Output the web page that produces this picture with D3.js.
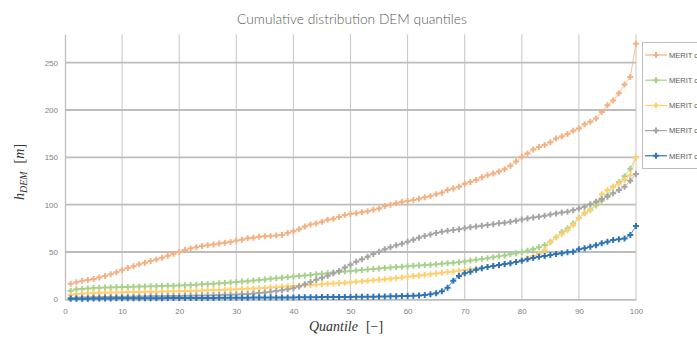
<!DOCTYPE html>
<html>
<head>
<meta charset="utf-8">
<script src="https://cdn.jsdelivr.net/npm/d3@7"></script>
<style>
  html, body { margin: 0; padding: 0; background: #fff; }
  svg { display: block; }
</style>
</head>
<body>
<svg id="chart" width="697" height="338"></svg>
<script>
// Quantile positions 1..100
const quantiles = [
  1,2,3,4,5,6,7,8,9,10,11,12,13,14,15,16,17,18,19,20,
  21,22,23,24,25,26,27,28,29,30,31,32,33,34,35,36,37,38,39,40,
  41,42,43,44,45,46,47,48,49,50,51,52,53,54,55,56,57,58,59,60,
  61,62,63,64,65,66,67,68,69,70,71,72,73,74,75,76,77,78,79,80,
  81,82,83,84,85,86,87,88,89,90,91,92,93,94,95,96,97,98,99,100
];

const seriesNames = ["MERIT c2", "MERIT co", "MERIT cl", "MERIT cl", "MERIT c1"];
const seriesColors = ["#F4B183", "#A9D18E", "#FFD070", "#A5A5A5", "#2E75B6"];

const meritOrange = [
  16.5, 18, 19.5, 20.5, 21.5, 23, 24.5, 26.5, 28.5, 31,
  33, 35, 37, 38.5, 40.5, 42, 44, 46, 48, 50,
  52, 53.8, 55, 56.3, 57, 58, 59, 59.8, 60.5, 62,
  63, 64.5, 65, 66, 66.5, 67, 67.5, 68, 70, 72,
  74, 77, 79, 80, 82, 84, 85, 87, 89, 90.5,
  91, 92, 93, 94.5, 96, 98.5, 100, 101.5, 103, 103.8,
  105, 106.3, 107.7, 109, 111, 112.6, 115.5, 117, 119, 122,
  124, 126, 129, 131, 133, 135, 137.5, 141, 145.5, 150.5,
  154, 158.4, 161, 163, 166, 170, 172, 174.6, 178, 180.6,
  185, 187.6, 191, 198, 205, 210, 217.6, 227, 235, 270
];

const meritGreen = [
  9, 10.5, 11, 11.5, 12, 12.2, 12.4, 12.6, 12.8, 13,
  13.1, 13.3, 13.4, 13.5, 13.7, 13.8, 14, 14.2, 14.4, 14.6,
  14.9, 15.2, 15.5, 15.8, 16.1, 16.5, 16.9, 17.3, 17.7, 18.2,
  18.7, 19.2, 19.8, 20.4, 21, 21.6, 22.2, 22.8, 23.4, 24,
  24.6, 25.2, 25.8, 26.4, 27, 27.6, 28.2, 28.8, 29.4, 30,
  30.5, 31, 31.5, 32, 32.5, 33, 33.5, 34, 34.5, 35,
  35.4, 35.8, 36.2, 36.6, 37, 37.5, 38, 38.6, 39.2, 40,
  41, 41.8, 42.6, 43.5, 44.4, 45.4, 46.4, 47.5, 48.6, 49.7,
  51.4, 52.8, 54.9, 57.4, 60.9, 65.5, 71, 75, 80, 86,
  91, 95, 99, 104, 110, 119, 124, 130, 138, 150
];

const meritYellow = [
  4.5, 5.5, 6, 6.3, 6.6, 6.8, 7, 7.1, 7.3, 7.5,
  7.6, 7.7, 7.8, 7.9, 8, 8.1, 8.2, 8.3, 8.4, 8.5,
  8.7, 8.9, 9.1, 9.3, 9.5, 9.7, 9.9, 10.1, 10.3, 10.5,
  10.8, 11.1, 11.4, 11.7, 12, 12.4, 12.8, 13.2, 13.6, 14,
  14.4, 14.8, 15.2, 15.6, 16, 16.4, 16.8, 17.2, 17.6, 18,
  18.5, 19, 19.5, 20, 20.6, 21.2, 21.8, 22.4, 23, 23.8,
  24.5, 25.2, 25.9, 26.6, 27.3, 28, 28.8, 29.5, 30.2, 31,
  31.7, 32.4, 33.2, 34, 34.8, 35.8, 36.8, 38, 39.5, 41.5,
  43.5, 45.5, 48, 52, 60, 65.5, 69, 73, 78.5, 85.6,
  91.5, 94, 102, 111, 115.5, 119, 122, 126, 131, 150
];

const meritGray = [
  1.5, 1.7, 1.9, 2.0, 2.1, 2.2, 2.3, 2.4, 2.5, 2.6,
  2.7, 2.8, 2.9, 3.0, 3.1, 3.2, 3.3, 3.4, 3.5, 3.6,
  3.7, 3.8, 3.9, 4.0, 4.1, 4.3, 4.5, 4.7, 4.9, 5.1,
  5.4, 5.7, 6.1, 6.6, 7.2, 7.9, 8.7, 9.6, 10.6, 11.8,
  13.6, 15.8, 18.2, 20.6, 22.8, 25, 27.5, 30, 33.5, 36.6,
  39.8, 42.2, 45, 47.9, 50.3, 52.8, 54.9, 57, 58.8, 60.8,
  63, 65, 66.9, 68.6, 70, 71.3, 72.3, 73.2, 74, 75,
  76, 76.8, 77.7, 78.5, 79.3, 80.3, 81, 82, 83, 84.3,
  85.4, 86.5, 87.3, 88.3, 89.6, 90.7, 91.8, 92.6, 94.2, 96,
  97.8, 100.4, 103, 106, 108.4, 112, 115.5, 119, 125.3, 132.4
];

const meritBlue = [
  0.5, 0.6, 0.7, 0.7, 0.8, 0.8, 0.9, 0.9, 1.0, 1.0,
  1.0, 1.1, 1.1, 1.1, 1.2, 1.2, 1.2, 1.3, 1.3, 1.3,
  1.4, 1.4, 1.4, 1.5, 1.5, 1.5, 1.6, 1.6, 1.6, 1.7,
  1.7, 1.7, 1.8, 1.8, 1.8, 1.9, 1.9, 2.0, 2.0, 2.0,
  2.1, 2.1, 2.2, 2.2, 2.3, 2.3, 2.4, 2.4, 2.5, 2.5,
  2.6, 2.6, 2.7, 2.8, 2.9, 3.0, 3.1, 3.2, 3.4, 3.6,
  3.8, 4.1, 4.5, 5.3, 6.5, 8.6, 12.3, 19.7, 24.6, 27.5,
  29.2, 31.2, 32.7, 34, 35.2, 36.2, 37.3, 38.2, 39.4, 40.8,
  42.2, 43.6, 45, 45.7, 46.8, 47.9, 48.6, 49.7, 50.3, 52.8,
  53.9, 55.6, 57, 59.2, 60.9, 62.6, 63.4, 64.2, 67.9, 77.4
];

const xTicks = [0, 10, 20, 30, 40, 50, 60, 70, 80, 90, 100];
const yTicks = [0, 50, 100, 150, 200, 250];

const chartTitle = "Cumulative distribution DEM quantiles";

const seriesValues = [meritOrange, meritGreen, meritYellow, meritGray, meritBlue];

const svg = d3.select("#chart");
const plot = { left: 65, right: 636, top: 34.3, bottom: 299.3 };

const x = d3.scaleLinear().domain([0, 100]).range([plot.left, plot.right]);
const y = d3.scaleLinear().domain([0, 280]).range([plot.bottom, plot.top]);

svg.append("rect").attr("width", 697).attr("height", 338).attr("fill", "#fff");

// Title
const title = svg.append("text")
  .attr("x", 352).attr("y", 24)
  .attr("text-anchor", "middle")
  .attr("font-family", "Lato, 'Open Sans', sans-serif")
  .attr("font-weight", 300)
  .attr("font-size", 17)
  .attr("fill", "#595959")
  .text(chartTitle);
{
  const w = title.node().getComputedTextLength();
  title.attr("font-size", 17 * 230 / w);
}

// Grid
const grid = svg.append("g");
grid.selectAll("line.v").data(xTicks.filter(d => d > 0)).join("line")
  .attr("x1", d => x(d)).attr("x2", d => x(d))
  .attr("y1", y(280)).attr("y2", y(0))
  .attr("stroke", "#c6c6c6").attr("stroke-width", 1);
grid.selectAll("line.h").data(yTicks.filter(d => d > 0)).join("line")
  .attr("x1", x(0)).attr("x2", x(100))
  .attr("y1", d => y(d)).attr("y2", d => y(d))
  .attr("stroke", "#bdbdbd").attr("stroke-width", 1.8);

// Axes
const xAxis = d3.axisBottom(x).tickValues(xTicks).tickSize(0).tickPadding(9);
const gx = svg.append("g").attr("transform", `translate(0,${y(0)})`).call(xAxis);
gx.select(".domain").attr("stroke", "#bdbdbd").attr("stroke-width", 1.8);
gx.selectAll("text").attr("font-family", "'Liberation Sans', Arial, sans-serif")
  .attr("font-size", 8).attr("fill", "#7f7f7f");

const yAxis = d3.axisLeft(y).tickValues(yTicks).tickSize(0).tickPadding(7);
const gy = svg.append("g").attr("transform", `translate(${x(0)},0)`).call(yAxis);
gy.select(".domain").attr("stroke", "#bdbdbd").attr("stroke-width", 1.3);
gy.selectAll("text").attr("font-family", "'Liberation Sans', Arial, sans-serif")
  .attr("font-size", 8).attr("fill", "#7f7f7f");

// Axis titles
const xt = svg.append("text")
  .attr("x", 346).attr("y", 331)
  .attr("text-anchor", "middle")
  .attr("font-family", "'Liberation Serif', 'DejaVu Serif', serif")
  .attr("font-size", 14)
  .attr("fill", "#333");
xt.append("tspan").attr("font-style", "italic").text("Quantile");
xt.append("tspan").attr("dx", 8).text("[−]");

const yt = svg.append("text")
  .attr("transform", "translate(24,172) rotate(-90)")
  .attr("text-anchor", "middle")
  .attr("font-family", "'Liberation Serif', 'DejaVu Serif', serif")
  .attr("font-size", 14)
  .attr("fill", "#333");
yt.append("tspan").attr("font-style", "italic").text("h");
yt.append("tspan").attr("font-style", "italic").attr("font-size", 10).attr("dy", 3).text("DEM");
yt.append("tspan").attr("dy", -3).attr("dx", 8).text("[");
yt.append("tspan").attr("font-style", "italic").text("m");
yt.append("tspan").text("]");

// Series
const line = d3.line().x((d, i) => x(quantiles[i])).y(d => y(d));
const marker = d3.symbol().type(d3.symbolCross).size(20);

seriesValues.forEach((vals, k) => {
  const g = svg.append("g");
  g.append("path").attr("d", line(vals))
    .attr("fill", "none").attr("stroke", seriesColors[k])
    .attr("stroke-width", 1).attr("stroke-opacity", 0.8);
  g.selectAll("path.m").data(vals).join("path")
    .attr("class", "m")
    .attr("transform", (d, i) => `translate(${x(quantiles[i])},${y(d)})`)
    .attr("d", marker)
    .attr("fill", seriesColors[k]);
});

// Legend
const lg = svg.append("g");
lg.append("rect").attr("x", 642.5).attr("y", 42.5).attr("width", 70).attr("height", 126)
  .attr("fill", "#fff").attr("stroke", "#bfbfbf").attr("stroke-width", 1);
seriesNames.forEach((name, k) => {
  const cy = 55 + k * 25.2;
  lg.append("line").attr("x1", 645).attr("x2", 667).attr("y1", cy).attr("y2", cy)
    .attr("stroke", seriesColors[k]).attr("stroke-width", 1.2);
  lg.append("path").attr("transform", `translate(656,${cy})`).attr("d", marker)
    .attr("fill", seriesColors[k]);
  lg.append("text").attr("x", 669).attr("y", cy + 2.7)
    .attr("font-family", "'Liberation Sans', Arial, sans-serif")
    .attr("font-size", 7.5).attr("fill", "#595959").text(name);
});
</script>
</body>
</html>
